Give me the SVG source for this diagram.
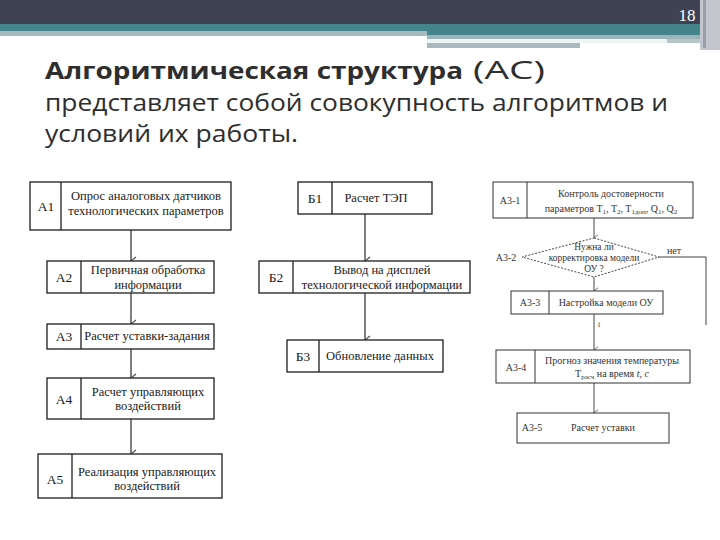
<svg xmlns="http://www.w3.org/2000/svg" width="720" height="540" viewBox="0 0 720 540">
<defs>
<style>
.box{fill:#fff;stroke:#1e1e1e;stroke-width:1.3}
.rbox{fill:#fff;stroke:#333;stroke-width:1}
.div{stroke:#1e1e1e;stroke-width:1.3}
.rdiv{stroke:#333;stroke-width:1}
.t{font-family:"Liberation Serif","Times New Roman",serif;font-size:12.5px;fill:#1a1a1a;text-anchor:middle}
.lb{font-family:"Liberation Serif","Times New Roman",serif;font-size:13.5px;fill:#1a1a1a;text-anchor:middle}
.rt{font-family:"Liberation Serif","Times New Roman",serif;font-size:10px;fill:#333;text-anchor:middle}
.dt{font-family:"Liberation Serif","Times New Roman",serif;font-size:9.5px;fill:#333;text-anchor:middle}
.con{stroke:#555;stroke-width:1.5;fill:none}
.rcon{stroke:#444;stroke-width:1;fill:none}
.hd{font-family:"Open Sans","Noto Sans",sans-serif;font-size:23px;fill:#2e2e2e}
</style>
<marker id="ah" viewBox="0 0 10 8" refX="5" refY="7" markerWidth="10" markerHeight="8" markerUnits="userSpaceOnUse" orient="auto-start-reverse">
<path d="M1,2 L5,7 L9,2" fill="none" stroke="#555" stroke-width="1.3"/>
</marker>
<marker id="ahr" viewBox="0 0 10 8" refX="5" refY="7" markerWidth="8" markerHeight="7" markerUnits="userSpaceOnUse" orient="auto-start-reverse">
<path d="M1,2 L5,7 L9,2" fill="none" stroke="#444" stroke-width="1"/>
</marker>
</defs>
<rect width="720" height="540" fill="#fff"/>
<g id="header">
<rect x="0" y="0" width="720" height="24" fill="#3e4252"/>
<rect x="0" y="24" width="705" height="8" fill="#44848b"/>
<rect x="0" y="31" width="427" height="5" fill="#a9babe"/>
<rect x="427" y="31" width="278" height="4" fill="#44848b"/>
<rect x="427" y="35" width="278" height="4" fill="#9fb4b8"/>
<rect x="427" y="39" width="240" height="4" fill="#eef4f4"/>
<rect x="667" y="39" width="38" height="4" fill="#b6c6c8"/>
<rect x="427" y="43" width="153" height="5" fill="#a9babe"/>
<rect x="700" y="0" width="20" height="50" fill="#c3c6cc"/>
<rect x="703" y="0" width="3" height="48" fill="#9a9ea8"/>
<text x="687" y="21" font-family="Liberation Serif,serif" font-size="17" fill="#fff" text-anchor="middle">18</text>
</g>
<g id="title">
<text class="hd" x="45" y="79"><tspan font-weight="bold" textLength="418" lengthAdjust="spacingAndGlyphs">Алгоритмическая структура</tspan> <tspan x="473" font-size="25" textLength="72" lengthAdjust="spacingAndGlyphs">(АС)</tspan></text>
<text class="hd" x="45" y="111" textLength="623" lengthAdjust="spacingAndGlyphs">представляет собой совокупность алгоритмов и</text>
<text class="hd" x="45" y="142" textLength="253" lengthAdjust="spacingAndGlyphs">условий их работы.</text>
</g>
<g id="connectors">
<line class="con" x1="131" y1="230" x2="131" y2="261" marker-end="url(#ah)"/>
<line class="con" x1="131" y1="293" x2="131" y2="324" marker-end="url(#ah)"/>
<line class="con" x1="131" y1="349" x2="131" y2="378" marker-end="url(#ah)"/>
<line class="con" x1="131" y1="419" x2="131" y2="454" marker-end="url(#ah)"/>
<line class="con" x1="365" y1="214" x2="365" y2="261" marker-end="url(#ah)"/>
<line class="con" x1="365" y1="293" x2="365" y2="340" marker-end="url(#ah)"/>
<line class="rcon" x1="594" y1="218" x2="594" y2="238" marker-end="url(#ahr)"/>
<line class="rcon" x1="594" y1="277" x2="594" y2="291" marker-end="url(#ahr)"/>
<polyline class="rcon" points="659,257 706,257 706,325"/>
<line class="rcon" x1="594" y1="314" x2="594" y2="350" marker-end="url(#ahr)"/>
<line class="rcon" x1="594" y1="383" x2="594" y2="413" marker-end="url(#ahr)"/>
<text x="667" y="254" font-family="Liberation Serif,serif" font-size="10" fill="#333">нет</text>
<text x="598" y="327" font-family="Liberation Serif,serif" font-size="8" font-style="italic" fill="#444">t</text>
</g>
<g id="A1">
<rect class="box" x="30" y="182" width="201" height="48"/>
<line class="div" x1="61" y1="182" x2="61" y2="230"/>
<text class="lb" x="46" y="211">А1</text>
<text class="t" x="146" y="200">Опрос аналоговых датчиков</text>
<text class="t" x="146" y="215">технологических параметров</text>
</g>
<g id="A2">
<rect class="box" x="47" y="261" width="167" height="32"/>
<line class="div" x1="81" y1="261" x2="81" y2="293"/>
<text class="lb" x="64" y="282">А2</text>
<text class="t" x="148" y="274">Первичная обработка</text>
<text class="t" x="148" y="289">информации</text>
</g>
<g id="A3">
<rect class="box" x="47" y="324" width="167" height="25"/>
<line class="div" x1="81" y1="324" x2="81" y2="349"/>
<text class="lb" x="64" y="341">А3</text>
<text class="t" x="147" y="340">Расчет уставки-задания</text>
</g>
<g id="A4">
<rect class="box" x="47" y="378" width="167" height="41"/>
<line class="div" x1="81" y1="378" x2="81" y2="419"/>
<text class="lb" x="64" y="404">А4</text>
<text class="t" x="148" y="396">Расчет управляющих</text>
<text class="t" x="148" y="410">воздействий</text>
</g>
<g id="A5">
<rect class="box" x="38" y="454" width="184" height="44"/>
<line class="div" x1="72" y1="454" x2="72" y2="498"/>
<text class="lb" x="55" y="484">А5</text>
<text class="t" x="147" y="476">Реализация управляющих</text>
<text class="t" x="147" y="490">воздействий</text>
</g>
<g id="B1">
<rect class="box" x="298" y="182" width="134" height="32"/>
<line class="div" x1="332" y1="182" x2="332" y2="214"/>
<text class="lb" x="315" y="203">Б1</text>
<text class="t" x="376" y="202">Расчет ТЭП</text>
</g>
<g id="B2">
<rect class="box" x="259" y="261" width="211" height="32"/>
<line class="div" x1="293" y1="261" x2="293" y2="293"/>
<text class="lb" x="276" y="282">Б2</text>
<text class="t" x="382" y="274">Вывод на дисплей</text>
<text class="t" x="382" y="289">технологической информации</text>
</g>
<g id="B3">
<rect class="box" x="287" y="340" width="156" height="32"/>
<line class="div" x1="319" y1="340" x2="319" y2="372"/>
<text class="lb" x="303" y="361">Б3</text>
<text class="t" x="380" y="360">Обновление данных</text>
</g>
<g id="A3-1">
<rect class="rbox" x="493" y="182" width="200" height="36"/>
<line class="rdiv" x1="527" y1="182" x2="527" y2="218"/>
<text class="rt" x="510" y="204">А3-1</text>
<text class="rt" x="611" y="197">Контроль достоверности</text>
<text class="rt" x="611" y="212">параметров T<tspan font-size="7" dy="2">1</tspan><tspan dy="-2">, T</tspan><tspan font-size="7" dy="2">2</tspan><tspan dy="-2">, T</tspan><tspan font-size="7" dy="2">1доп</tspan><tspan dy="-2">, Q</tspan><tspan font-size="7" dy="2">1</tspan><tspan dy="-2">, Q</tspan><tspan font-size="7" dy="2">2</tspan></text>
</g>
<g id="A3-2">
<polygon points="594,238 659,257 594,277 522,257" fill="#fff" stroke="#444" stroke-width="1" stroke-dasharray="2,1.5"/>
<text class="dt" x="594" y="250">Нужна ли</text>
<text class="dt" x="594" y="261">корректировка модели</text>
<text class="dt" x="594" y="272">ОУ ?</text>
<text class="rt" x="506" y="261">А3-2</text>
</g>
<g id="A3-3">
<rect class="rbox" x="511" y="291" width="152" height="23"/>
<line class="rdiv" x1="549" y1="291" x2="549" y2="314"/>
<text class="rt" x="530" y="306">А3-3</text>
<text class="rt" x="606" y="306">Настройка модели ОУ</text>
</g>
<g id="A3-4">
<rect class="rbox" x="496" y="350" width="194" height="33"/>
<line class="rdiv" x1="535" y1="350" x2="535" y2="383"/>
<text class="rt" x="516" y="371">А3-4</text>
<text class="rt" x="612" y="364">Прогноз значения температуры</text>
<text class="rt" x="612" y="377">T<tspan font-size="7" dy="2">расч</tspan><tspan dy="-2"> на время </tspan><tspan font-style="italic">t</tspan>, <tspan font-style="italic">c</tspan></text>
</g>
<g id="A3-5">
<rect class="rbox" x="517" y="413" width="152" height="30"/>
<text class="rt" x="532" y="431">А3-5</text>
<text class="rt" x="603" y="431">Расчет уставки</text>
</g>
</svg>
